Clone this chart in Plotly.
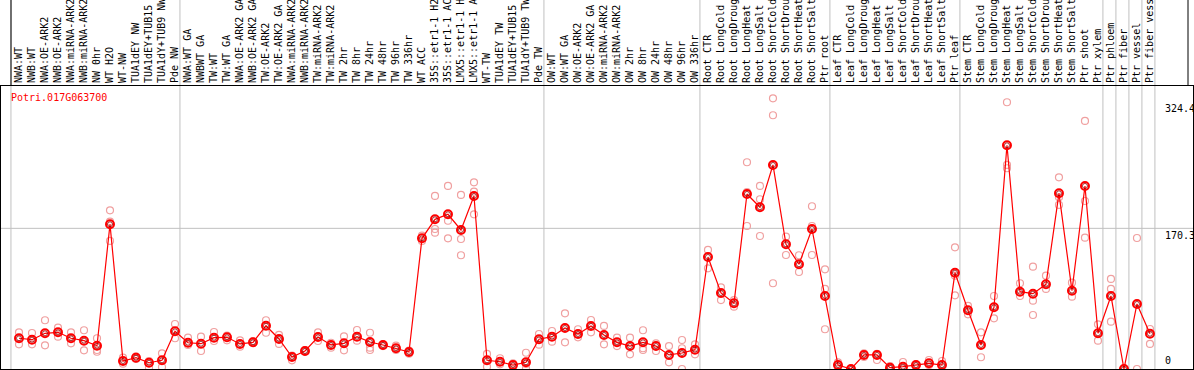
import plotly.graph_objects as go

categories = [
    "NWA:WT", "NWB:WT", "NWA:OE-ARK2", "NWB:OE-ARK2", "NWA:miRNA-ARK2", "NWB:miRNA-ARK2",
    "NW 0hr", "WT H2O", "WT-NW", "TUA1dEY NW", "TUA1dEY+TUB15 NW", "TUA1dY+TUB9 NW", "Pde NW",
    "NWA:WT GA", "NWBWT GA", "TW:WT", "TW:WT GA", "NWA:OE-ARK2 GA", "NWB:OE-ARK2 GA",
    "TW:OE-ARK2", "TW:OE-ARK2 GA", "NWA:miRNA-ARK2", "NWB:miRNA-ARK2", "TW:miRNA-ARK2",
    "TW:miRNA-ARK2", "TW 2hr", "TW 8hr", "TW 24hr", "TW 48hr", "TW 96hr", "TW 336hr",
    "WT ACC", "35S::etr1-1 H2O", "35S::etr1-1 ACC", "LMX5::etr1-1 H2O", "LMX5::etr1-1 ACC",
    "WT-TW", "TUA1dEY TW", "TUA1dEY+TUB15 TW", "TUA1dY+TUB9 TW", "Pde TW",
    "OW:WT", "OW:WT GA", "OW:OE-ARK2", "OW:OE-ARK2 GA", "OW:miRNA-ARK2", "OW:miRNA-ARK2",
    "OW 2hr", "OW 8hr", "OW 24hr", "OW 48hr", "OW 96hr", "OW 336hr",
    "Root CTR", "Root LongCold", "Root LongDrought", "Root LongHeat", "Root LongSalt",
    "Root ShortCold", "Root ShortDrought", "Root ShortHeat", "Root ShortSalt", "Ptr root",
    "Leaf CTR", "Leaf LongCold", "Leaf LongDrought", "Leaf LongHeat", "Leaf LongSalt",
    "Leaf ShortCold", "Leaf ShortDrought", "Leaf ShortHeat", "Leaf ShortSalt", "Ptr leaf",
    "Stem CTR", "Stem LongCold", "Stem LongDrought", "Stem LongHeat", "Stem LongSalt",
    "Stem ShortCold", "Stem ShortDrought", "Stem ShortHeat", "Stem ShortSalt", "Ptr shoot",
    "Ptr xylem", "Ptr phloem", "Ptr fiber", "Ptr vessel", "Ptr fiber vessel",
]

mean_vals = [
    37.2, 35.5, 43.2, 44.4, 37.2, 34.3, 28.2, 175.2, 9.7, 13.7, 7.6, 10.5, 45.6,
    31.8, 30.6, 37.9, 38.4, 30.3, 32.3, 52.4, 36.3, 14.5, 21.8, 38.7, 29.1, 31.1,
    39.1, 32.7, 29.1, 25.1, 20.6, 158.2, 181.2, 187.3, 168.3, 209.5, 10.5, 8.8,
    4.8, 8.1, 36.0, 39.1, 49.6, 42.4, 52.1, 41.2, 32.3, 27.8, 32.3, 27.8, 17.0,
    19.4, 23.4, 135.6, 92.0, 79.5, 211.9, 195.8, 247.0, 151.0, 126.8, 169.5, 88.4,
    4.8, 0.0, 17.0, 17.0, 1.6, 2.8, 4.8, 6.9, 4.8, 116.6, 71.1, 29.1, 74.7, 270.8,
    93.6, 91.2, 102.5, 212.7, 94.8, 221.6, 43.2, 88.4, 0.0, 78.7, 42.7,
]

rep_a = [
    44.4, 43.6, 59.0, 50.0, 44.4, 46.9, 37.2, 192.1, 13.7, 15.4, 9.7, 19.0, 54.5,
    37.9, 39.1, 44.8, 40.3, 34.7, 33.9, 59.0, 41.2, 16.1, 23.0, 44.4, 31.8, 39.6,
    47.2, 43.9, 29.9, 28.2, 22.2, 161.4, 209.5, 221.6, 210.7, 226.0, 18.2, 13.0,
    6.9, 19.7, 42.4, 46.0, 67.4, 48.1, 59.3, 52.1, 37.9, 37.9, 46.9, 31.1, 27.8,
    35.1, 29.9, 144.1, 98.9, 83.5, 250.3, 221.6, 327.7, 160.2, 137.7, 197.0, 120.7,
    8.1, 0.6, 19.0, 18.2, 3.6, 8.5, 5.7, 10.9, 9.7, 147.3, 76.3, 44.4, 88.4, 322.9,
    103.8, 123.9, 113.0, 232.1, 104.5, 300.3, 54.1, 109.0, 1.2, 158.6, 48.4,
]

rep_b = [
    29.9, 29.9, 28.7, 39.1, 31.1, 22.6, 23.0, 178.3, 6.4, 12.1, 1.6, 2.4, 37.2,
    29.1, 21.8, 33.9, 34.7, 27.0, 31.5, 43.9, 30.3, 10.5, 20.9, 33.9, 25.8, 22.6,
    34.3, 25.8, 27.8, 23.0, 18.5, 155.0, 169.5, 179.5, 157.4, 214.7, 2.8, 5.7,
    2.8, 0.8, 29.4, 33.1, 32.3, 38.4, 44.4, 29.9, 27.8, 17.8, 23.0, 21.8, 8.1,
    25.1, 17.8, 121.9, 83.5, 75.4, 214.3, 205.5, 307.2, 138.0, 117.4, 173.1, 96.9,
    2.8, 0.0, 14.5, 10.9, 0.6, 0.6, 3.6, 4.8, 5.7, 113.0, 66.2, 14.2, 61.4, 247.0,
    88.4, 82.7, 96.9, 207.9, 87.5, 203.4, 34.3, 96.9, 0.0, 0.0, 30.3,
]

rep_c = [
    None, None, None, None, None, None, 20.9, 155.0, None, None, None, None, None,
    None, None, None, None, None, None, None, None, None, None, None, None, None,
    None, 23.0, None, None, None, None, 165.0, 158.2, 137.7, 187.3, None, None,
    None, 6.1, None, None, None, None, None, None, None, None, 25.1, None, None,
    0.0, None, None, None, None, 173.1, 161.0, 103.8, None, None, 138.0, 48.1,
    None, None, None, None, None, None, None, None, None, 89.2, None, None, None, 243.0,
    None, 65.4, None, 198.6, None, 159.0, None, 57.3, None, None, None,
]

gene_name = "Potri.017G063700"
ytick_vals = [0, 170.3, 324.4]
ytick_text = ["0", "170.3", "324.4"]
group_breaks = [-0.5, 12.5, 40.5, 52.5, 62.5, 72.5, 83.5, 84.5, 85.5, 86.5, 87.5]

W, H = 1194, 370
ML, MR, MT, MB = 1, 1, 86, 1
XMIN, XMAX = -1.385, 90.31
YMIN, YMAX = 0, 342.6
PW = W - ML - MR
PH = H - MT - MB

MONO = "DejaVu Sans Mono"

x_idx = list(range(len(categories)))

rx, ry = [], []
for arr in (rep_a, rep_b, rep_c):
    for i, v in enumerate(arr):
        if v is not None:
            rx.append(i)
            ry.append(v)

fig = go.Figure()
fig.add_trace(go.Scatter(
    x=rx, y=ry, mode="markers",
    marker=dict(symbol="circle-open", size=7, color="#f0a0a0", line=dict(width=1.2)),
    hoverinfo="skip", showlegend=False,
))
fig.add_trace(go.Scatter(
    x=x_idx, y=mean_vals, mode="lines+markers",
    line=dict(color="#ff0000", width=1.2),
    marker=dict(symbol="circle-open", size=8, color="#ff0000", line=dict(width=2)),
    showlegend=False,
))
fig.add_trace(go.Scatter(
    x=x_idx, y=mean_vals, mode="markers",
    marker=dict(symbol="circle-open", size=5, color="#900000", line=dict(width=0.8)),
    hoverinfo="skip", showlegend=False,
))

def xpaper(v):
    return (v - 0.12 - XMIN) / (XMAX - XMIN)

shapes = []
top_paper = 1 + MT / PH
for b in group_breaks:
    xp = xpaper(b)
    shapes.append(dict(type="line", xref="paper", yref="paper", x0=xp, x1=xp,
                       y0=0, y1=top_paper, line=dict(color="#c0c0c0", width=1), layer="below"))
# black verticals in label area
for px in (11, 1188):
    xp = (px - ML) / PW
    shapes.append(dict(type="line", xref="paper", yref="paper", x0=xp, x1=xp,
                       y0=1, y1=top_paper, line=dict(color="black", width=1)))
# horizontal grid line at middle tick
shapes.append(dict(type="line", xref="paper", yref="y", x0=0, x1=1,
                   y0=ytick_vals[1], y1=ytick_vals[1], line=dict(color="#c0c0c0", width=1), layer="below"))

annotations = []
for v, t in zip(ytick_vals, ytick_text):
    if v == 0:
        annotations.append(dict(x=(1163 - ML) / PW, y=v, xref="paper", yref="y", text=t,
                                showarrow=False, xanchor="left", yanchor="bottom", yshift=1,
                                font=dict(family=MONO, size=10, color="black")))
    else:
        annotations.append(dict(x=(1163 - ML) / PW, y=v, xref="paper", yref="y", text=t,
                                showarrow=False, xanchor="left", yanchor="top",
                                font=dict(family=MONO, size=10, color="black")))
annotations.append(dict(x=(9 - ML) / PW, y=(H - MB - 97) / PH, xref="paper", yref="paper",
                        text=gene_name, showarrow=False, xanchor="left", yanchor="middle",
                        font=dict(family=MONO, size=10, color="#ff0000")))

fig.update_layout(
    width=W, height=H,
    margin=dict(l=ML, r=MR, t=MT, b=MB, pad=0),
    paper_bgcolor="white", plot_bgcolor="white",
    template="none",
    shapes=shapes, annotations=annotations,
    xaxis=dict(range=[XMIN, XMAX], side="top", tickmode="array", tickvals=x_idx,
               ticktext=categories, tickangle=-90, ticks="", showgrid=False, zeroline=False,
               showline=True, mirror=True, linecolor="black", linewidth=1, automargin=False,
               tickfont=dict(family=MONO, size=10, color="black")),
    yaxis=dict(range=[YMIN, YMAX], showticklabels=False, ticks="", showgrid=False,
               zeroline=False, showline=True, mirror=True, linecolor="black", linewidth=1,
               automargin=False),
)

fig.write_html("out.html", config={"displayModeBar": False},
               post_script="document.body.style.margin='0';document.body.style.overflow='hidden';")
